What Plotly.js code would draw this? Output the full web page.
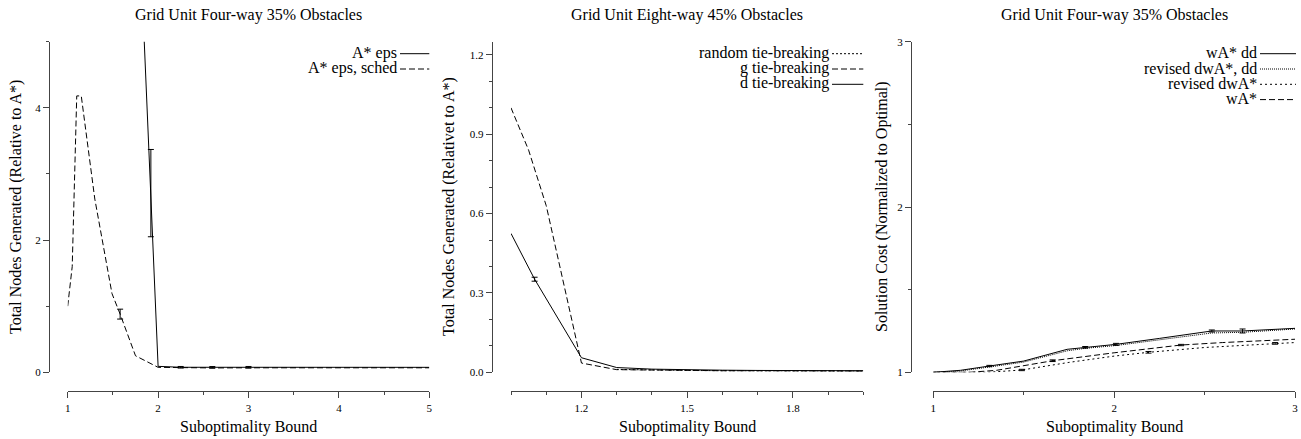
<!DOCTYPE html>
<html>
<head>
<meta charset="utf-8">
<script src="https://cdn.plot.ly/plotly-3.0.1.min.js"></script>
<style>html,body{margin:0;padding:0;background:#fff;}#chart{width:1301px;height:439px;}</style>
</head>
<body>
<div id="chart"></div>
<script>
// ---------------- Data ----------------
// Panel 1: Grid Unit Four-way 35% Obstacles (nodes generated)
var p1_eps_x = [1.8, 1.92, 2.0, 2.25, 2.6, 3.0, 4.0, 5.0];
var p1_eps_y = [6.5, 2.71, 0.09, 0.076, 0.075, 0.076, 0.075, 0.075];
var p1_eps_errIdx = [1, 3, 4, 5];
var p1_eps_err = [0.66, 0.012, 0.012, 0.012];
var p1_sched_x = [1.0, 1.05, 1.1, 1.15, 1.3, 1.49, 1.58, 1.75, 2.0, 2.25, 2.6, 3.0, 4.0, 5.0];
var p1_sched_y = [1.0, 1.6, 4.18, 4.18, 2.62, 1.19, 0.88, 0.25, 0.075, 0.068, 0.066, 0.068, 0.068, 0.068];
var p1_sched_errIdx = [6];
var p1_sched_err = [0.075];

// Panel 2: Grid Unit Eight-way 45% Obstacles (nodes generated)
var p2_random_x = [1.3, 1.4, 1.5, 1.6, 1.7, 1.8, 1.9, 2.0];
var p2_random_y = [0.011, 0.008, 0.007, 0.006, 0.006, 0.005, 0.005, 0.005];
var p2_g_x = [1.0, 1.05, 1.1, 1.2, 1.3, 1.4, 1.5, 1.6, 1.7, 1.8, 1.9, 2.0];
var p2_g_y = [1.0, 0.84, 0.63, 0.035, 0.01, 0.008, 0.007, 0.006, 0.006, 0.005, 0.005, 0.005];
var p2_d_x = [1.0, 1.067, 1.2, 1.3, 1.4, 1.5, 1.6, 1.7, 1.8, 1.9, 2.0];
var p2_d_y = [0.525, 0.352, 0.055, 0.018, 0.012, 0.009, 0.008, 0.007, 0.006, 0.006, 0.006];
var p2_d_errIdx = [1];
var p2_d_err = [0.0075];

// Panel 3: Grid Unit Four-way 35% Obstacles (solution cost)
var p3_wadd_x = [1.0, 1.15, 1.31, 1.5, 1.74, 1.84, 2.01, 2.25, 2.54, 2.71, 3.0];
var p3_wadd_y = [1.0, 1.012, 1.038, 1.068, 1.139, 1.151, 1.169, 1.205, 1.25, 1.25, 1.266];
var p3_wadd_errIdx = [2, 5, 6, 8, 9];
var p3_wadd_err = [0.004, 0.005, 0.006, 0.006, 0.012];
var p3_rdd_x = [1.0, 1.15, 1.31, 1.5, 1.74, 1.84, 2.01, 2.25, 2.54, 2.71, 3.0];
var p3_rdd_y = [1.0, 1.008, 1.032, 1.062, 1.13, 1.145, 1.162, 1.195, 1.238, 1.242, 1.262];
var p3_rd_x = [1.0, 1.3, 1.49, 1.75, 2.0, 2.19, 2.5, 2.89, 3.0];
var p3_rd_y = [1.0, 1.0, 1.014, 1.06, 1.098, 1.121, 1.15, 1.175, 1.18];
var p3_rd_errIdx = [2, 5, 7];
var p3_rd_err = [0.004, 0.005, 0.005];
var p3_wa_x = [1.0, 1.2, 1.35, 1.5, 1.66, 2.0, 2.37, 2.6, 3.0];
var p3_wa_y = [1.0, 1.0, 1.012, 1.038, 1.07, 1.118, 1.165, 1.18, 1.2];
var p3_wa_errIdx = [4, 6];
var p3_wa_err = [0.005, 0.004];

// Labels
var panelTitles = ["Grid Unit Four-way 35% Obstacles", "Grid Unit Eight-way 45% Obstacles", "Grid Unit Four-way 35% Obstacles"];
var xTitles = ["Suboptimality Bound", "Suboptimality Bound", "Suboptimality Bound"];
var yTitles = ["Total Nodes Generated (Relative to A*)", "Total Nodes Generated (Relativet to A*)", "Solution Cost (Normalized to Optimal)"];
var legend1 = ["A* eps", "A* eps, sched"];
var legend2 = ["random tie-breaking", "g tie-breaking", "d tie-breaking"];
var legend3 = ["wA* dd", "revised dwA*, dd", "revised dwA*", "wA*"];

// ---------------- Styling / layout helpers ----------------
var W = 1301, H = 439;
function fx(p) { return p / W; }
function fy(p) { return 1 - p / H; }
var FONT = "'Liberation Serif', 'Times New Roman', serif";
var SOLID = "solid", DASH = "6px,3px", DOT = "2px,2px", DOT3 = "2px,3px", FINE = "1px,1px";
var AXC = "#444";

function line(x, y, dash, xa, ya) {
  return {type: "scatter", mode: "lines", x: x, y: y, xaxis: xa, yaxis: ya,
    line: {color: "#000", width: 1, dash: dash}, hoverinfo: "skip", showlegend: false};
}
function errs(x, y, idx, e, xa, ya) {
  return {type: "scatter", mode: "markers", xaxis: xa, yaxis: ya,
    x: idx.map(function (i) { return x[i]; }), y: idx.map(function (i) { return y[i]; }),
    marker: {size: 0.1, color: "rgba(0,0,0,0)"},
    error_y: {type: "data", array: e, visible: true, color: "#000", thickness: 1, width: 3},
    hoverinfo: "skip", showlegend: false};
}

var traces = [
  line(p1_eps_x, p1_eps_y, SOLID, "x", "y"),
  line(p1_sched_x, p1_sched_y, DASH, "x", "y"),
  errs(p1_eps_x, p1_eps_y, p1_eps_errIdx, p1_eps_err, "x", "y"),
  errs(p1_sched_x, p1_sched_y, p1_sched_errIdx, p1_sched_err, "x", "y"),

  line(p2_random_x, p2_random_y, DOT, "x2", "y2"),
  line(p2_g_x, p2_g_y, DASH, "x2", "y2"),
  line(p2_d_x, p2_d_y, SOLID, "x2", "y2"),
  errs(p2_d_x, p2_d_y, p2_d_errIdx, p2_d_err, "x2", "y2"),

  line(p3_wadd_x, p3_wadd_y, SOLID, "x3", "y3"),
  line(p3_rdd_x, p3_rdd_y, FINE, "x3", "y3"),
  line(p3_rd_x, p3_rd_y, DOT3, "x3", "y3"),
  line(p3_wa_x, p3_wa_y, DASH, "x3", "y3"),
  errs(p3_wadd_x, p3_wadd_y, p3_wadd_errIdx, p3_wadd_err, "x3", "y3"),
  errs(p3_rd_x, p3_rd_y, p3_rd_errIdx, p3_rd_err, "x3", "y3"),
  errs(p3_wa_x, p3_wa_y, p3_wa_errIdx, p3_wa_err, "x3", "y3")
];

var yDom = [fy(372.3), fy(41.7)];
var xPos = fy(391);
var tickFont = {family: FONT, size: 11, color: "#000"};

function xax(dom, range, major, minor) {
  var a = {domain: dom, range: range, anchor: "free", position: xPos,
    showline: true, linecolor: AXC, linewidth: 1.3, ticks: "outside", ticklen: 6, tickwidth: 1, tickcolor: AXC,
    showgrid: false, zeroline: false, tickfont: tickFont, fixedrange: true,
    minor: {ticks: "outside", ticklen: 3, tickwidth: 1, tickcolor: AXC, showgrid: false}};
  for (var k in major) a[k] = major[k];
  for (var m in minor) a.minor[m] = minor[m];
  return a;
}
function yax(pos, range, major, minor) {
  var a = {domain: yDom, range: range, anchor: "free", position: pos,
    showline: true, linecolor: AXC, linewidth: 1.3, ticks: "outside", ticklen: 6, tickwidth: 1, tickcolor: AXC,
    showgrid: false, zeroline: false, tickfont: tickFont, fixedrange: true,
    minor: {ticks: "outside", ticklen: 3, tickwidth: 1, tickcolor: AXC, showgrid: false}};
  for (var k in major) a[k] = major[k];
  for (var m in minor) a.minor[m] = minor[m];
  return a;
}

var xDoms = [[fx(67.7), fx(429.3)], [fx(511), fx(863.3)], [fx(933.3), fx(1295)]];
var yAxisX = [49, 491.7, 911];
var yTitleX = [16, 449, 882];

var layout = {
  width: W, height: H, margin: {l: 0, r: 0, t: 0, b: 0},
  paper_bgcolor: "#fff", plot_bgcolor: "#fff", showlegend: false,
  font: {family: FONT, color: "#000"},
  xaxis: xax(xDoms[0], [1, 5], {tickmode: "linear", tick0: 1, dtick: 1}, {tick0: 1, dtick: 0.5}),
  yaxis: yax(fx(yAxisX[0]), [0, 5], {tickmode: "linear", tick0: 0, dtick: 2}, {tick0: 0, dtick: 1}),
  xaxis2: xax(xDoms[1], [1, 2], {tickmode: "array", tickvals: [1.2, 1.5, 1.8], ticktext: ["1.2", "1.5", "1.8"]}, {tick0: 1, dtick: 0.1}),
  yaxis2: yax(fx(yAxisX[1]), [0, 1.25], {tickmode: "linear", tick0: 0, dtick: 0.3, tickformat: ".1f"}, {tick0: 0, dtick: 0.1}),
  xaxis3: xax(xDoms[2], [1, 3], {tickmode: "linear", tick0: 1, dtick: 1}, {tick0: 1, dtick: 0.5}),
  yaxis3: yax(fx(yAxisX[2]), [1, 3], {tickmode: "linear", tick0: 1, dtick: 1}, {tick0: 1, dtick: 0.5}),
  annotations: [], shapes: []
};

var textFont = {family: FONT, size: 16, color: "#000"};
for (var i = 0; i < 3; i++) {
  var cx = (xDoms[i][0] + xDoms[i][1]) / 2;
  layout.annotations.push({xref: "paper", yref: "paper", x: cx, y: fy(15), text: panelTitles[i],
    showarrow: false, xanchor: "center", yanchor: "middle", font: textFont});
  layout.annotations.push({xref: "paper", yref: "paper", x: cx, y: fy(427), text: xTitles[i],
    showarrow: false, xanchor: "center", yanchor: "middle", font: textFont});
  layout.annotations.push({xref: "paper", yref: "paper", x: fx(yTitleX[i]), y: (yDom[0] + yDom[1]) / 2, text: yTitles[i],
    showarrow: false, xanchor: "center", yanchor: "middle", textangle: -90, font: textFont});
}

function addLegend(names, dashes, rows, textEnd, s0, s1) {
  for (var j = 0; j < names.length; j++) {
    layout.annotations.push({xref: "paper", yref: "paper", x: fx(textEnd), y: fy(rows[j]), text: names[j],
      showarrow: false, xanchor: "right", yanchor: "middle", font: textFont, borderpad: 0});
    layout.shapes.push({type: "line", xref: "paper", yref: "paper", x0: fx(s0), x1: fx(s1), y0: fy(rows[j] + 1), y1: fy(rows[j] + 1),
      line: {color: "#000", width: 1, dash: dashes[j]}});
  }
}
addLegend(legend1, [SOLID, DASH], [52.7, 68.0], 398, 400, 429.3);
addLegend(legend2, [DOT, DASH, SOLID], [52.7, 68.0, 83.3], 830, 832, 863.3);
addLegend(legend3, [SOLID, FINE, DOT3, DASH], [52.7, 68.0, 83.3, 98.6], 1258, 1260, 1296);

Plotly.newPlot("chart", traces, layout, {staticPlot: true, displayModeBar: false});
</script>
</body>
</html>
